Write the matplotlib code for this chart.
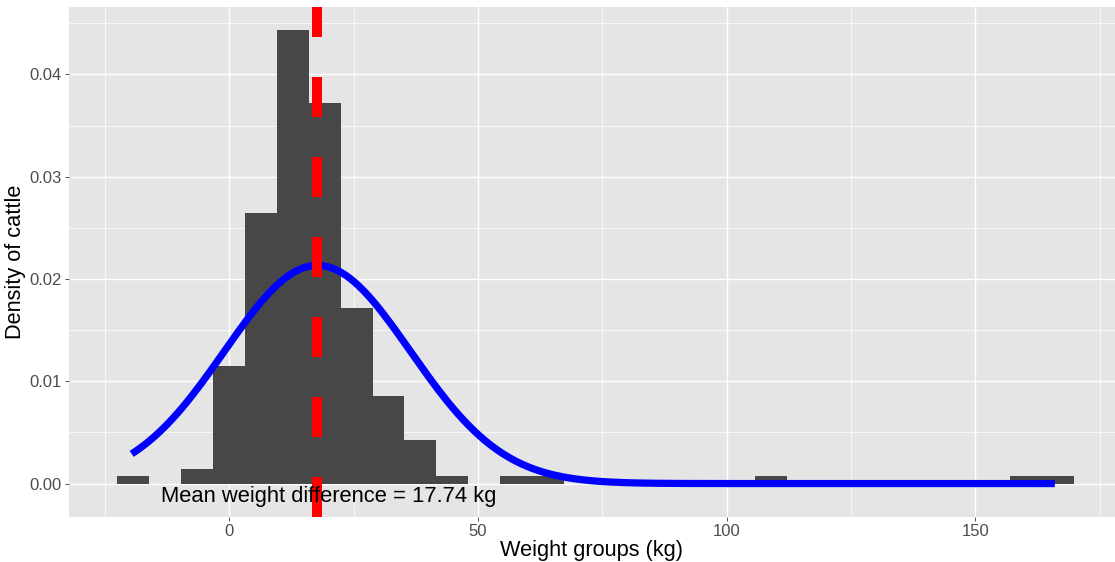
import numpy as np
import matplotlib.pyplot as plt

plt.rcParams["font.family"] = ["Liberation Sans", "DejaVu Sans"]
plt.rcParams["lines.scale_dashes"] = False

# histogram of weight differences: 30 bins of equal width
first_edge = -22.45
bin_width = 6.41
counts = [1, 0, 2, 16, 37, 62, 52, 24, 12, 6, 1, 0, 1, 1, 0,
          0, 0, 0, 0, 0, 1, 0, 0, 0, 0, 0, 0, 0, 1, 1]

# normal curve fitted to the data
mean_diff = 17.74
sd_diff = 18.7
data_min = -19.6
data_max = 166.0

label_x = 20
label_y = -0.001

x_ticks = [0, 50, 100, 150]
y_ticks = [0.00, 0.01, 0.02, 0.03, 0.04]

counts = np.array(counts)
n = counts.sum()
edges = first_edge + bin_width * np.arange(len(counts))
density = counts / (n * bin_width)

xs = np.linspace(data_min, data_max, 200)
ys = np.exp(-0.5 * ((xs - mean_diff) / sd_diff) ** 2) / (sd_diff * np.sqrt(2 * np.pi))

fig = plt.figure(figsize=(11.15, 5.62), dpi=100)
ax = fig.add_axes([69 / 1115, 45 / 562, 1 - 69 / 1115, 510 / 562])
ax.set_facecolor("#E5E5E5")

ax.bar(edges, density, width=bin_width, align="edge", color="#474747",
       linewidth=0, zorder=2)
ax.plot(xs, ys, color="blue", linewidth=5.2, solid_capstyle="butt", zorder=3)
ax.axvline(mean_diff, color="red", linewidth=7.2, dashes=(28.8, 28.8),
           dash_capstyle="butt", zorder=4)
ax.text(label_x, label_y, f"Mean weight difference = {mean_diff:.2f} kg",
        ha="center", va="center_baseline", fontsize=15.8, color="black",
        zorder=5)

ax.set_xlim(-32.2, 178.1)
ax.set_ylim(-0.00327, 0.0466)
ax.set_xticks(x_ticks)
ax.set_yticks(y_ticks)
ax.set_yticklabels([f"{v:.2f}" for v in y_ticks])
ax.set_xticks([-25, 25, 75, 125, 175], minor=True)
ax.set_yticks(np.arange(0.005, 0.046, 0.01), minor=True)

ax.grid(which="major", color="white", linewidth=1.0, zorder=0)
ax.grid(which="minor", color="white", linewidth=0.5, zorder=0)
ax.set_axisbelow(True)
for s in ax.spines.values():
    s.set_visible(False)

ax.tick_params(which="major", length=3, width=0.6, color="#333333",
               labelsize=12, labelcolor="#4D4D4D", pad=2)
ax.tick_params(which="minor", length=0)

ax.set_xlabel("Weight groups (kg)", fontsize=15.7, labelpad=1)
ax.set_ylabel("Density of cattle", fontsize=15.7, labelpad=3)

fig.savefig("out.png", dpi=100)
